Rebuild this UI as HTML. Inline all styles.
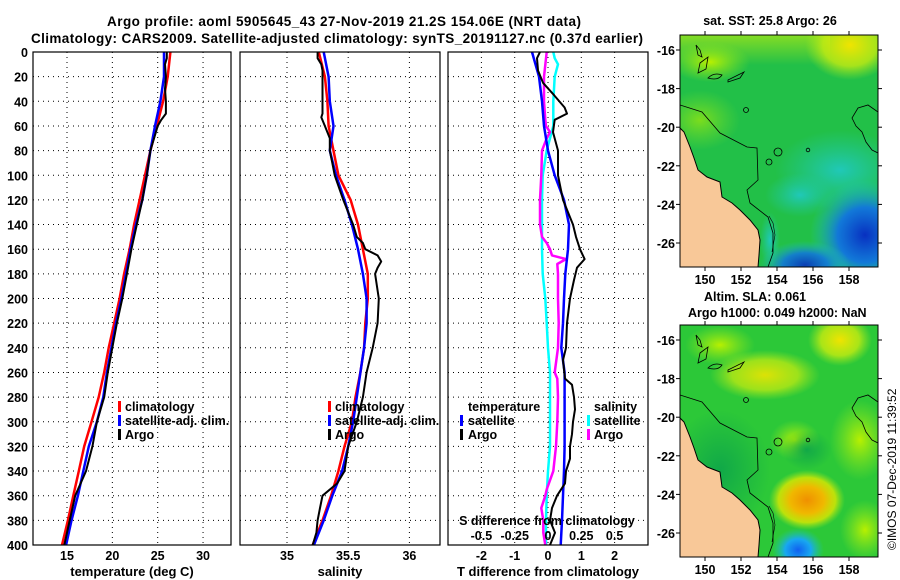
<!DOCTYPE html>
<html><head><meta charset="utf-8"><style>
html,body{margin:0;padding:0;background:#fff;}
svg{display:block;font-family:"Liberation Sans",sans-serif;font-weight:bold;}
</style></head><body>
<svg id="fig" width="900" height="580" viewBox="0 0 900 580" xmlns="http://www.w3.org/2000/svg">
<defs>
<radialGradient id="gy" cx="50%" cy="50%" r="50%"><stop offset="0" stop-color="#f0e400"/><stop offset="0.6" stop-color="#c8ec10" stop-opacity="0.8"/><stop offset="1" stop-color="#a0e820" stop-opacity="0"/></radialGradient>
<radialGradient id="gyl" cx="50%" cy="50%" r="50%"><stop offset="0" stop-color="#b8f000"/><stop offset="1" stop-color="#90e820" stop-opacity="0"/></radialGradient>
<radialGradient id="gb" cx="50%" cy="50%" r="50%"><stop offset="0" stop-color="#0830c0"/><stop offset="0.5" stop-color="#1070e8" stop-opacity="0.9"/><stop offset="1" stop-color="#20c0d0" stop-opacity="0"/></radialGradient>
<radialGradient id="gc" cx="50%" cy="50%" r="50%"><stop offset="0" stop-color="#20c8b8"/><stop offset="1" stop-color="#20c8a0" stop-opacity="0"/></radialGradient>
<radialGradient id="go" cx="50%" cy="50%" r="50%"><stop offset="0" stop-color="#f09000"/><stop offset="0.45" stop-color="#f0b800"/><stop offset="0.75" stop-color="#e0e800" stop-opacity="0.8"/><stop offset="1" stop-color="#a0e820" stop-opacity="0"/></radialGradient>
<radialGradient id="gbl" cx="50%" cy="50%" r="50%"><stop offset="0" stop-color="#1060f0"/><stop offset="0.5" stop-color="#18a8f0"/><stop offset="1" stop-color="#20c8a0" stop-opacity="0"/></radialGradient>
<radialGradient id="gdg" cx="50%" cy="50%" r="50%"><stop offset="0" stop-color="#10a848"/><stop offset="1" stop-color="#10a848" stop-opacity="0"/></radialGradient>
<linearGradient id="topstrip" x1="0" y1="0" x2="0" y2="1"><stop offset="0" stop-color="#90e020"/><stop offset="1" stop-color="#90e020" stop-opacity="0"/></linearGradient>
<clipPath id="clipMap1"><rect x="680" y="35" width="198" height="232"/></clipPath>
<clipPath id="clipMap2"><rect x="680" y="325" width="198" height="232"/></clipPath>
<g id="coast">
<polygon points="680,128 684,132 690,147 694,158 698,170 707,177 720,182 722,197 732,203 740,210 750,220 758,230 760,240 759,255 758,267 680,267" fill="#f8c898" stroke="#000" stroke-width="1"/>
<polyline points="680,105 702,112 720,133 747,147 757,148 758,180 747,190 750,203 768,217 773,233 773,253 768,267" fill="none" stroke="#000" stroke-width="0.8"/>
<polyline points="878,112 868,105 858,108 852,118 856,126 862,132 866,142 872,150 878,153" fill="none" stroke="#000" stroke-width="0.8"/>
<polyline points="769,216 773,223 775,235 772,252" fill="none" stroke="#000" stroke-width="0.6"/>
<circle cx="778" cy="152" r="4" fill="none" stroke="#000" stroke-width="0.8"/>
<circle cx="769" cy="162" r="3" fill="none" stroke="#000" stroke-width="0.8"/>
<circle cx="746" cy="110" r="2.5" fill="none" stroke="#000" stroke-width="0.8"/>
<circle cx="808" cy="150" r="1.8" fill="none" stroke="#000" stroke-width="0.8"/>
<path d="M696,45 l2,10 l4,2 l-2,-7z M700,63 l8,-6 l-2,12 l-8,4z M708,78 q6,-6 14,-3 q-4,6 -14,3z M728,80 l16,-8 l-4,6 l-12,4z" fill="none" stroke="#000" stroke-width="0.8"/>
</g>
</defs>

<text x="344" y="26" font-size="13.5" text-anchor="middle" textLength="474">Argo profile: aoml 5905645_43 27-Nov-2019 21.2S 154.06E (NRT data)</text>
<text x="337" y="43" font-size="13.5" text-anchor="middle" textLength="612">Climatology: CARS2009. Satellite-adjusted climatology: synTS_20191127.nc (0.37d earlier)</text>

<g id="panels"></g>

<g font-size="12.5">
<rect x="118" y="401" width="3" height="11" fill="#f00"/><text x="125" y="411">climatology</text>
<rect x="118" y="415" width="3" height="11" fill="#00f"/><text x="125" y="425">satellite-adj. clim.</text>
<rect x="118" y="429" width="3" height="11" fill="#000"/><text x="125" y="439">Argo</text>
</g>
<g font-size="12.5">
<rect x="328" y="401" width="3" height="11" fill="#f00"/><text x="335" y="411">climatology</text>
<rect x="328" y="415" width="3" height="11" fill="#00f"/><text x="335" y="425">satellite-adj. clim.</text>
<rect x="328" y="429" width="3" height="11" fill="#000"/><text x="335" y="439">Argo</text>
</g>
<g font-size="12.5">
<text x="468" y="411">temperature</text>
<rect x="460" y="415" width="3" height="11" fill="#00f"/><text x="468" y="425">satellite</text>
<rect x="460" y="429" width="3" height="11" fill="#000"/><text x="468" y="439">Argo</text>
<text x="594" y="411">salinity</text>
<rect x="587" y="415" width="3" height="11" fill="#0ff"/><text x="594" y="425">satellite</text>
<rect x="587" y="429" width="3" height="11" fill="#f0f"/><text x="594" y="439">Argo</text>
</g>
<text x="547" y="525" font-size="12.5" text-anchor="middle">S difference from climatology</text>

<g clip-path="url(#clipMap1)">
<rect x="680" y="35" width="198" height="232" fill="#22c048"/>
<rect x="680" y="35" width="150" height="30" fill="url(#topstrip)" opacity="0.9"/>
<ellipse cx="710" cy="62" rx="40" ry="20" fill="url(#gyl)"/>
<ellipse cx="850" cy="45" rx="45" ry="35" fill="url(#gy)"/>
<ellipse cx="700" cy="120" rx="40" ry="30" fill="url(#gyl)" opacity="0.6"/>
<ellipse cx="840" cy="170" rx="65" ry="40" fill="url(#gc)"/>
<ellipse cx="800" cy="195" rx="35" ry="22" fill="url(#gc)"/>
<ellipse cx="865" cy="235" rx="55" ry="55" fill="url(#gb)"/>
<ellipse cx="805" cy="265" rx="45" ry="24" fill="url(#gb)" opacity="0.9"/>
<ellipse cx="770" cy="240" rx="10" ry="28" fill="url(#gc)"/>
<use href="#coast"/>
</g>
<rect x="680" y="35" width="198" height="232" fill="none" stroke="#000" stroke-width="1"/>
<text x="770" y="25" font-size="12.5" text-anchor="middle">sat. SST: 25.8 Argo: 26</text>

<g clip-path="url(#clipMap2)">
<rect x="680" y="325" width="198" height="232" fill="#2cc838"/>
<ellipse cx="765" cy="375" rx="55" ry="25" fill="url(#gy)" opacity="0.9"/>
<ellipse cx="720" cy="345" rx="35" ry="20" fill="url(#gyl)"/>
<ellipse cx="840" cy="340" rx="32" ry="26" fill="url(#gy)"/>
<ellipse cx="795" cy="440" rx="25" ry="20" fill="url(#gyl)"/>
<ellipse cx="860" cy="440" rx="30" ry="40" fill="url(#gyl)"/>
<ellipse cx="807" cy="450" rx="25" ry="20" fill="url(#gdg)"/>
<ellipse cx="720" cy="470" rx="50" ry="60" fill="url(#gdg)"/>
<ellipse cx="807" cy="500" rx="38" ry="30" fill="url(#go)"/>
<ellipse cx="865" cy="530" rx="25" ry="30" fill="url(#gyl)"/>
<ellipse cx="798" cy="550" rx="26" ry="22" fill="url(#gbl)"/>
<use href="#coast" transform="translate(0,290)"/>
</g>
<rect x="680" y="325" width="198" height="232" fill="none" stroke="#000" stroke-width="1"/>
<text x="704" y="301" font-size="12.5">Altim. SLA: 0.061</text>
<text x="688" y="317" font-size="12.5">Argo h1000: 0.049 h2000: NaN</text>
<g id="mapAxes"></g>
<text transform="translate(896,550) rotate(-90)" font-size="12" font-weight="normal">©IMOS 07-Dec-2019 11:39:52</text>
</svg>
<script>
const stdDepth = [0,20,40,60,80,100,120,140,160,180,200,220,240,260,280,300,320,340,360,380,400];
const tempClim = [26.4,26.1,25.6,24.9,24.2,23.6,23.0,22.4,21.9,21.3,20.8,20.2,19.6,19.1,18.5,17.7,16.9,16.3,15.7,15.1,14.45];
const tempSat = [25.7,25.7,25.3,24.7,24.2,23.8,23.3,22.6,22.0,21.5,21.0,20.4,19.9,19.4,19.0,18.3,17.4,16.8,16.2,15.5,14.9];
const argoTDepth = [0,5,10,20,30,40,50,55,60,80,100,120,140,160,180,200,220,240,260,280,300,320,340,360,380,400];
const tempArgo = [26.0,26.0,25.8,25.9,25.8,25.9,25.9,25.4,25.0,24.2,23.8,23.3,22.7,22.1,21.6,21.1,20.5,20.0,19.5,19.1,18.3,17.8,17.1,15.9,15.3,14.7];
const salClim = [35.26,35.31,35.33,35.34,35.38,35.42,35.52,35.58,35.62,35.66,35.66,35.64,35.63,35.60,35.56,35.53,35.47,35.42,35.36,35.29,35.21];
const salSat = [35.30,35.34,35.35,35.38,35.35,35.40,35.47,35.53,35.58,35.62,35.65,35.65,35.63,35.60,35.57,35.54,35.50,35.45,35.37,35.30,35.22];
const argoSDepth = [0,5,10,15,20,50,53,60,70,80,90,100,120,140,150,155,160,165,170,175,180,200,220,240,260,280,300,320,340,350,360,370,380,390,400];
const salArgo = [35.25,35.25,35.28,35.29,35.29,35.29,35.28,35.31,35.35,35.35,35.37,35.39,35.46,35.54,35.57,35.62,35.64,35.74,35.77,35.74,35.72,35.75,35.74,35.70,35.65,35.62,35.57,35.50,35.47,35.41,35.29,35.27,35.25,35.24,35.21];
const tdSatDepth = [0,20,40,60,80,100,120,140,160,180,200,220,240,260,280,300,320,340,360,380,400];
const tdSat = [-0.48,-0.27,-0.18,-0.12,0.0,0.2,0.48,0.63,0.6,0.52,0.48,0.45,0.4,0.5,0.5,0.5,0.5,0.48,0.45,0.42,0.38];
const tdArgoDepth = [0,5,15,25,35,45,50,55,65,80,100,120,140,150,160,168,175,185,200,220,240,250,265,270,280,290,300,310,320,330,340,350,360,370,380,390,400];
const tdArgo = [-0.24,-0.33,-0.3,-0.15,0.18,0.5,0.57,0.2,0.15,0.3,0.3,0.45,0.75,0.84,0.96,1.1,0.87,0.78,0.66,0.57,0.54,0.45,0.51,0.72,0.78,0.81,0.75,0.72,0.66,0.66,0.54,0.51,0.27,0.12,0.06,0.21,0.06];
const sdSatDepth = [0,5,10,20,40,60,70,80,100,120,140,160,180,200,220,240,260,280,300,320,340,360,380,400];
const sdSat = [0.04,0.05,0.075,0.05,0.04,0.04,0.015,-0.01,-0.04,-0.045,-0.045,-0.045,-0.04,-0.02,-0.01,0.0,0.015,0.015,0.015,0.015,0.0,-0.01,-0.015,-0.015];
const sdArgoDepth = [0,20,40,55,60,65,70,80,100,120,140,150,155,160,165,168,172,180,200,220,240,260,265,280,300,320,340,355,360,370,380,390,400];
const sdArgo = [-0.01,-0.03,-0.03,-0.02,-0.015,0.015,-0.01,-0.045,-0.05,-0.06,-0.06,-0.045,-0.01,0.015,0.03,0.135,0.07,0.075,0.075,0.08,0.075,0.05,0.07,0.075,0.07,0.06,0.04,-0.01,-0.02,-0.05,-0.035,-0.035,-0.02];
const depthTicks = [0,20,40,60,80,100,120,140,160,180,200,220,240,260,280,300,320,340,360,380,400];
const tempTicks = [15,20,25,30];
const salTicks = [35,35.5,36];
const tdTicks = [-2,-1,0,1,2];
const sdTicks = [-0.5,-0.25,0,0.25,0.5];
const sdTickLabels = ["-0.5","-0.25","0","0.25","0.5"];
const lonTicks = [150,152,154,156,158];
const latTicks = [-16,-18,-20,-22,-24,-26];

const Y0=52, Y1=545;
const yD = d => Y0 + d*(Y1-Y0)/400;
const xT = t => 67 + (t-15)*9.07;
const xS = s => 287 + (s-35)*122.4;
const xTd = v => 548 + v*33.3;
const xSd = v => 548 + v*133.2;
const NS="http://www.w3.org/2000/svg";
const root=document.getElementById('panels');
function mk(tag, attrs, parent){const e=document.createElementNS(NS,tag);for(const k in attrs)e.setAttribute(k,attrs[k]);(parent||root).appendChild(e);return e;}

function panel(name,x0,x1,xticks,xs,labels,title){
  const g=mk('g',{});
  
  
  mk('rect',{x:x0,y:Y0,width:x1-x0,height:Y1-Y0,fill:'#fff'},g);
  depthTicks.forEach(d=>{ if(d>0&&d<400){const l=mk('line',{x1:x0,x2:x1,y1:yD(d),y2:yD(d),stroke:'#000','stroke-width':1,'stroke-dasharray':'1 4'},g);
    
    }});
  xticks.forEach((t,i)=>{const l=mk('line',{x1:xs(t),x2:xs(t),y1:Y0,y2:Y1,stroke:'#000','stroke-width':1,'stroke-dasharray':'1 4'},g);
    
    
    const tx=mk('text',{x:xs(t),y:560,'font-size':12.5,'text-anchor':'middle'},g); tx.textContent=labels?labels[i]:String(t);
    
    });
  const tt=mk('text',{x:(x0+x1)/2,y:576,'font-size':13,'text-anchor':'middle'},g); tt.textContent=title;
  
  
  return g;
}
function series(g,name,depths,vals,xs,color,w){
  const pts=vals.map((v,i)=>xs(v).toFixed(1)+','+yD(depths[i]).toFixed(1)).join(' ');
  const p=mk('polyline',{points:pts,fill:'none',stroke:color,'stroke-width':w,'stroke-linejoin':'round'},g);
  
  
}
function frame(g,x0,x1){mk('rect',{x:x0,y:Y0,width:x1-x0,height:Y1-Y0,fill:'none',stroke:'#000','stroke-width':1.2},g);}

const g1=panel('temperature-panel',33,231,tempTicks,xT,null,'temperature (deg C)');
series(g1,'temperature-climatology-line',stdDepth,tempClim,xT,'#f00',2.5);
series(g1,'temperature-satellite-line',stdDepth,tempSat,xT,'#00f',2.5);
series(g1,'temperature-argo-line',argoTDepth,tempArgo,xT,'#000',2);
frame(g1,33,231);
depthTicks.forEach(d=>{const t=mk('text',{x:28,y:yD(d)+5,'font-size':12.5,'text-anchor':'end'},g1);t.textContent=String(d);
  
  });

const g2=panel('salinity-panel',240,440,salTicks,xS,null,'salinity');
series(g2,'salinity-climatology-line',stdDepth,salClim,xS,'#f00',2.5);
series(g2,'salinity-satellite-line',stdDepth,salSat,xS,'#00f',2.5);
series(g2,'salinity-argo-line',argoSDepth,salArgo,xS,'#000',2);
frame(g2,240,440);

const g3=panel('difference-panel',448,648,tdTicks,xTd,null,'T difference from climatology');
series(g3,'s-diff-satellite-line',sdSatDepth,sdSat,xSd,'#0ff',2.5);
series(g3,'s-diff-argo-line',sdArgoDepth,sdArgo,xSd,'#f0f',2.5);
series(g3,'t-diff-satellite-line',tdSatDepth,tdSat,xTd,'#00f',2.5);
series(g3,'t-diff-argo-line',tdArgoDepth,tdArgo,xTd,'#000',2);
frame(g3,448,648);
sdTicks.forEach((v,i)=>{const t=mk('text',{x:xSd(v),y:540,'font-size':12.5,'text-anchor':'middle'},g3);t.textContent=sdTickLabels[i];
  
  });

const ma=document.getElementById('mapAxes');
const xLon = lon => 705 + (lon-150)*18.0;
[[35,267,50],[325,557,340]].forEach(([top,bot,y16],mi)=>{
  lonTicks.forEach(lon=>{
    mk('line',{x1:xLon(lon),x2:xLon(lon),y1:top-4,y2:top,stroke:'#000'},ma);
    mk('line',{x1:xLon(lon),x2:xLon(lon),y1:bot,y2:bot+4,stroke:'#000'},ma);
    const t=mk('text',{x:xLon(lon),y:bot+17,'font-size':12.5,'text-anchor':'middle'},ma);t.textContent=String(lon);
    
    
  });
  latTicks.forEach(lat=>{
    const y=y16+(-16-lat)*19.3;
    mk('line',{x1:676,x2:680,y1:y,y2:y,stroke:'#000'},ma);
    mk('line',{x1:878,x2:882,y1:y,y2:y,stroke:'#000'},ma);
    const t=mk('text',{x:675,y:y+5,'font-size':12.5,'text-anchor':'end'},ma);t.textContent=String(lat);
    
    
  });
});
</script>
</body></html>
